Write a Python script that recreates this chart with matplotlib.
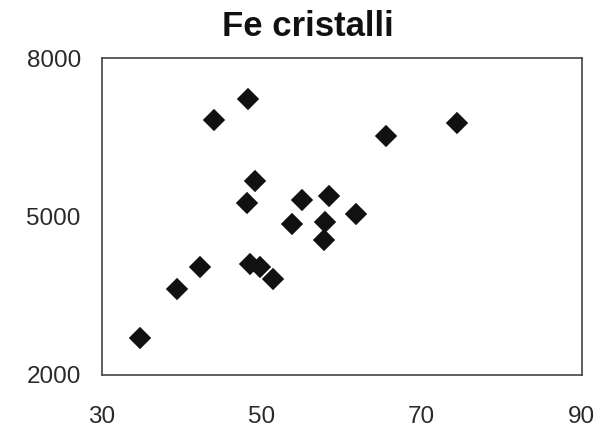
import matplotlib
matplotlib.use("Agg")
import matplotlib.pyplot as plt

x_vals = [34.8, 39.4, 42.3, 44.0, 48.3, 49.1, 48.2, 48.5, 49.75, 51.45,
          53.75, 55.0, 58.4, 57.95, 57.8, 61.8, 65.6, 74.45]
y_vals = [2700, 3615, 4040, 6830, 7230, 5670, 5250, 4095, 4035, 3805,
          4855, 5320, 5390, 4895, 4550, 5045, 6535, 6770]
x_ticks = [30, 50, 70, 90]
y_ticks = [2000, 5000, 8000]
title = "Fe cristalli"

plt.rcParams['font.family'] = ['Liberation Sans', 'DejaVu Sans']
W, H = 610, 434
fig = plt.figure(figsize=(W / 100, H / 100), dpi=100)
left, right, top, bottom = 101.7, 581.7, 58.3, 374.5
ax = fig.add_axes([left / W, 1 - bottom / H, (right - left) / W, (bottom - top) / H])

ax.plot(x_vals, y_vals, linestyle='none', marker='D', markersize=10,
        color='#111111', markeredgecolor='#111111', markeredgewidth=1.2)

ax.set_xlim(30, 90)
ax.set_ylim(2000, 8000)
ax.set_xticks(x_ticks)
ax.set_yticks(y_ticks)
ax.set_xticklabels([str(v) for v in x_ticks])
ax.set_yticklabels([str(v) for v in y_ticks])
ax.tick_params(axis='both', length=0, labelsize=17.5, colors='#2a2a2a')
ax.tick_params(axis='x', pad=23)
ax.tick_params(axis='y', pad=15)
for s in ax.spines.values():
    s.set_color('#444444')
    s.set_linewidth(1.2)

fig.text(308 / W, 1 - 26 / H, title, ha='center', va='center',
         fontsize=25, fontweight='bold', color='#111111')

fig.savefig("out.png", dpi=100)
